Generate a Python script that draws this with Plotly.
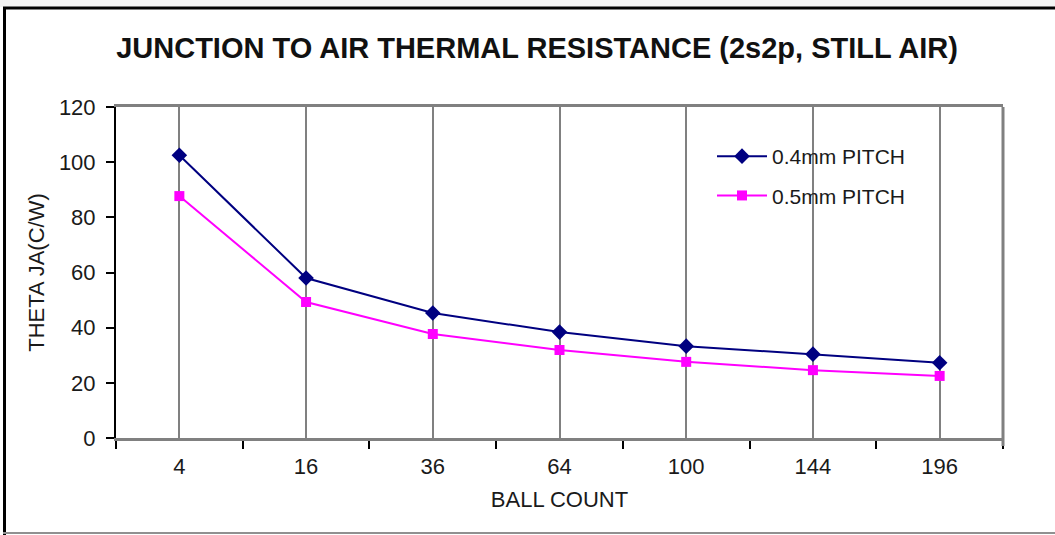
import plotly.graph_objects as go

categories = ["4", "16", "36", "64", "100", "144", "196"]
pitch_04 = [102.5, 58.0, 45.3, 38.4, 33.3, 30.4, 27.3]
pitch_05 = [87.7, 49.3, 37.7, 31.9, 27.6, 24.6, 22.5]
y_ticks = [0, 20, 40, 60, 80, 100, 120]

idx = list(range(len(categories)))
bounds = [i - 0.5 for i in range(len(categories) + 1)]

W, H = 1055, 535
L, R, T, B = 116, 52, 107, 97
pw, ph = W - L - R, H - T - B

def px_to_paper_x(px):
    return (px - L) / pw

def px_to_paper_y(py):
    return (H - B - py) / ph

font = "Liberation Sans, Arial, sans-serif"

fig = go.Figure()
fig.add_trace(go.Scatter(
    x=idx, y=pitch_04, name="0.4mm PITCH", mode="lines+markers",
    line=dict(color="#000080", width=2),
    marker=dict(symbol="diamond", size=12, color="#000080"),
    legendgroup="a",
))
fig.add_trace(go.Scatter(
    x=idx, y=pitch_05, name="0.5mm PITCH", mode="lines+markers",
    line=dict(color="#FF00FF", width=2),
    marker=dict(symbol="square", size=10, color="#FF00FF"),
    legendgroup="b",
))

shapes = [
    # light gray strip above the frame
    dict(type="rect", xref="paper", yref="paper",
         x0=px_to_paper_x(0), x1=px_to_paper_x(W), y0=px_to_paper_y(7), y1=px_to_paper_y(-2),
         fillcolor="#f3f3f3", line=dict(width=0), layer="below"),
    # frame lines
    dict(type="line", xref="paper", yref="paper",
         x0=px_to_paper_x(3), x1=px_to_paper_x(W + 2), y0=px_to_paper_y(8), y1=px_to_paper_y(8),
         line=dict(color="black", width=3)),
    dict(type="line", xref="paper", yref="paper",
         x0=px_to_paper_x(4.5), x1=px_to_paper_x(4.5), y0=px_to_paper_y(7), y1=px_to_paper_y(H + 2),
         line=dict(color="black", width=3)),
    dict(type="line", xref="paper", yref="paper",
         x0=px_to_paper_x(3), x1=px_to_paper_x(W + 2), y0=px_to_paper_y(533), y1=px_to_paper_y(533),
         line=dict(color="#909090", width=2)),
    # right plot border
    dict(type="line", xref="paper", yref="paper",
         x0=1, x1=1, y0=px_to_paper_y(446), y1=1,
         line=dict(color="#808080", width=3)),
]

fig.update_layout(
    width=W, height=H,
    margin=dict(l=L, r=R, t=T, b=B),
    paper_bgcolor="white", plot_bgcolor="white",
    font=dict(family=font, size=22, color="#1a1a1a"),
    title=dict(
        text="<b>JUNCTION TO AIR THERMAL RESISTANCE (2s2p, STILL AIR)</b>",
        font=dict(family=font, size=29, color="#111111"),
        x=px_to_paper_x(537), xref="paper", xanchor="center",
        y=1 - 48 / H, yref="container", yanchor="middle",
    ),
    showlegend=True,
    legend=dict(
        x=px_to_paper_x(712), y=px_to_paper_y(136), xanchor="left", yanchor="top",
        bgcolor="rgba(0,0,0,0)", borderwidth=0,
        font=dict(family=font, size=21, color="#1a1a1a"),
        tracegroupgap=9, traceorder="grouped", itemwidth=50,
    ),
    shapes=shapes,
)

fig.update_xaxes(
    range=[-0.5, len(categories) - 0.5],
    tickmode="array", tickvals=idx, ticktext=categories,
    ticks="outside", ticklen=7, tickcolor="rgba(0,0,0,0)",
    showgrid=True, gridcolor="#808080", gridwidth=1.5,
    showline=True, linecolor="#808080", linewidth=3, mirror=True,
    zeroline=False,
    minor=dict(tickmode="array", tickvals=bounds, ticks="outside", ticklen=8,
               tickcolor="black", tickwidth=2, showgrid=False),
    title=dict(text="BALL COUNT", standoff=14, font=dict(size=22)),
    tickfont=dict(size=22),
)
fig.update_yaxes(
    range=[0, 120], tickmode="array", tickvals=y_ticks,
    ticks="outside", ticklen=8, tickcolor="black", tickwidth=2,
    showgrid=False, zeroline=False,
    showline=True, linecolor="black", linewidth=2, mirror=False,
    ticklabelstandoff=6,
    title=dict(text="THETA JA(C/W)", standoff=8, font=dict(size=22)),
    tickfont=dict(size=22),
)

fig.write_html(
    "out.html",
    config={"displayModeBar": False},
    post_script="document.body.style.margin='0';document.body.style.overflow='hidden';",
)
